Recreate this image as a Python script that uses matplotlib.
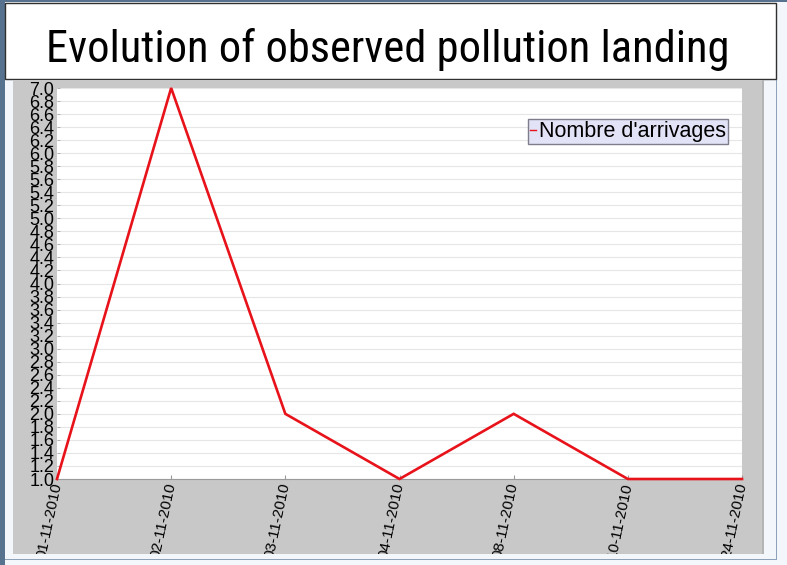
import matplotlib
matplotlib.use("Agg")
import matplotlib.pyplot as plt
from matplotlib.patches import Rectangle
from matplotlib.transforms import Bbox, TransformedBbox

# data
dates = ["01-11-2010", "02-11-2010", "03-11-2010", "04-11-2010",
         "08-11-2010", "10-11-2010", "24-11-2010"]
arrivals = [1, 7, 2, 1, 2, 1, 1]
y_ticks = [round(1.0 + 0.2 * i, 1) for i in range(31)]
y_tick_labels = [f"{v:.1f}" for v in y_ticks]

W, H = 787, 565

fig = plt.figure(figsize=(W / 100, H / 100), dpi=100, facecolor="#f3f6fa")


def px_rect(x0, y0, x1, y1, **kw):
    # rectangle given in pixel coords, origin top-left, drawn under the axes
    r = Rectangle((x0 / W, 1 - y1 / H), (x1 - x0) / W, (y1 - y0) / H,
                  transform=fig.transFigure, zorder=-5, **kw)
    fig.patches.append(r)
    return r


# window chrome
px_rect(0, 0, 4.5, H, facecolor="#56728f", edgecolor="none")
px_rect(0, 0, W, 2, facecolor="#56728f", edgecolor="none")
px_rect(776, 80, 777, 560, facecolor="#8da2b8", edgecolor="none")
px_rect(4.5, 559, 777, 560, facecolor="#8da2b8", edgecolor="none")

# title box
px_rect(5, 3, 776, 79, facecolor="white", edgecolor="#303030", linewidth=1)
# grey panel behind the chart
px_rect(13, 80, 764, 554, facecolor="#c8c8c8", edgecolor="none")
px_rect(762, 80, 764, 554, facecolor="#b4b4b4", edgecolor="none")

fig.text(388 / W, 1 - 62 / H, "Evolution of observed pollution landing",
         ha="center", va="baseline", color="black",
         family="Roboto Condensed", fontsize=32)

ax = fig.add_axes([57 / W, 1 - 479 / H, 685 / W, 391 / H])
ax.set_facecolor("white")

x = list(range(len(dates)))
ax.plot(x, arrivals, color="#e8121a", linewidth=1.9, label="Nombre d'arrivages",
        solid_joinstyle="miter", clip_on=False, zorder=3)

ax.set_xlim(0, len(dates) - 1)
ax.set_ylim(1.0, 7.0)
ax.set_yticks(y_ticks)
ax.set_yticklabels(y_tick_labels, family="Liberation Sans", fontsize=13)
ax.set_xticks(x)
ax.set_xticklabels(dates, family="Liberation Sans", fontsize=11,
                   rotation=78, ha="right", va="center", rotation_mode="anchor")
ax.tick_params(axis="y", direction="in", length=2, width=0.6, color="#aaaaaa", pad=2)
ax.tick_params(axis="x", direction="in", length=3, width=0.8, color="#999999", pad=3)
ax.grid(axis="y", color="#e6e6e6", linewidth=0.8)
ax.set_axisbelow(True)
for side in ("top", "right", "left"):
    ax.spines[side].set_visible(False)
ax.spines["bottom"].set_color("#9a9a9a")
ax.spines["bottom"].set_linewidth(0.8)

# cut the date labels at the bottom of the grey panel, as in the reference
clip = TransformedBbox(Bbox([[0, 1 - 554 / H], [1, 1]]), fig.transFigure)
for lab in ax.get_xticklabels():
    lab.set_clip_box(clip)
    lab.set_clip_on(True)

leg = ax.legend(loc="upper right", bbox_to_anchor=((728 - 57) / 685, (479 - 119) / 391),
                borderaxespad=0, fancybox=False, framealpha=1, handlelength=0.25,
                handletextpad=0.15, borderpad=0.1,
                prop={"family": "Liberation Sans", "size": 15.5})
leg.get_frame().set_facecolor("#e3e3f7")
leg.get_frame().set_edgecolor("#7d7d8c")
leg.get_frame().set_linewidth(1)
for line in leg.get_lines():
    line.set_linewidth(1)

fig.savefig("out.png", dpi=100, facecolor=fig.get_facecolor())
